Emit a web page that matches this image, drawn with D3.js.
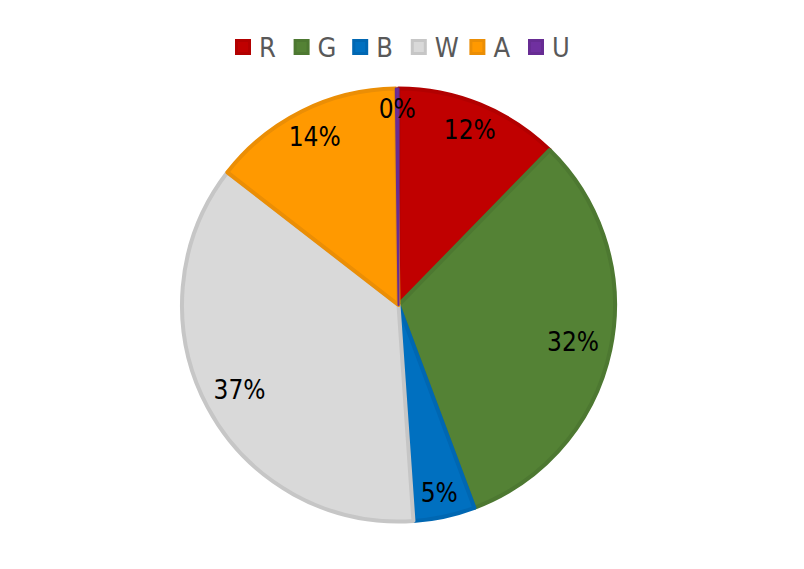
<!DOCTYPE html>
<html><head><meta charset="utf-8">
<script src="https://cdn.jsdelivr.net/npm/d3@7"></script>
<style>body{margin:0;background:#fff}</style>
</head><body>
<svg id="c" width="804" height="569"></svg>
<script>
const categories = ["R","G","B","W","A","U"];
const values = [12.3, 32.0, 4.6, 36.6, 14.3, 0.2];
const labels = ["12%","32%","5%","37%","14%","0%"];
const fills = ["#C00000","#548235","#0070C0","#D9D9D9","#FF9900","#7030A0"];
const strokes = ["#B20000","#4D7831","#0067B2","#C6C6C6","#EB8E05","#672C93"];

const svg = d3.select("#c");
const cx = 398.5, cy = 305, R = 218;
const font = "'DejaVu Sans Condensed','Liberation Sans Narrow',sans-serif";

const pie = d3.pie().sort(null).value(d => d)(values);
const arc = d3.arc().innerRadius(0).outerRadius(R - 1.5);
const g = svg.append("g").attr("transform", `translate(${cx},${cy})`);
g.selectAll("path").data(pie).join("path")
  .attr("d", arc)
  .attr("fill", (d,i) => fills[i])
  .attr("stroke", (d,i) => strokes[i])
  .attr("stroke-width", (d,i) => i === 5 ? 2 : 4)
  .attr("stroke-linejoin", "round");

g.selectAll("text").data(pie).join("text")
  .attr("transform", d => {
    const a = (d.startAngle + d.endAngle) / 2;
    const r = R - 22 - 18 * Math.abs(Math.sin(a));
    return `translate(${r*Math.sin(a)},${-r*Math.cos(a)})`;
  })
  .attr("text-anchor","middle").attr("dy","0.35em")
  .attr("font-family", font).attr("font-size", 26)
  .attr("fill","#000")
  .text((d,i) => labels[i]);

// legend
const legX = d3.scalePoint().domain(categories).range([235, 528]);
const lg = svg.append("g");
const items = lg.selectAll("g").data(categories).join("g")
  .attr("transform", d => `translate(${legX(d)},47)`);
items.append("rect").attr("x",1.5).attr("y",-6.5).attr("width",13).attr("height",13)
  .attr("fill",(d,i)=>fills[i]).attr("stroke",(d,i)=>strokes[i]).attr("stroke-width",3);
items.append("text").attr("x",24).attr("dy","0.36em")
  .attr("font-family", font).attr("font-size", 27).attr("fill","#595959")
  .text(d => d);
</script>
</body></html>
